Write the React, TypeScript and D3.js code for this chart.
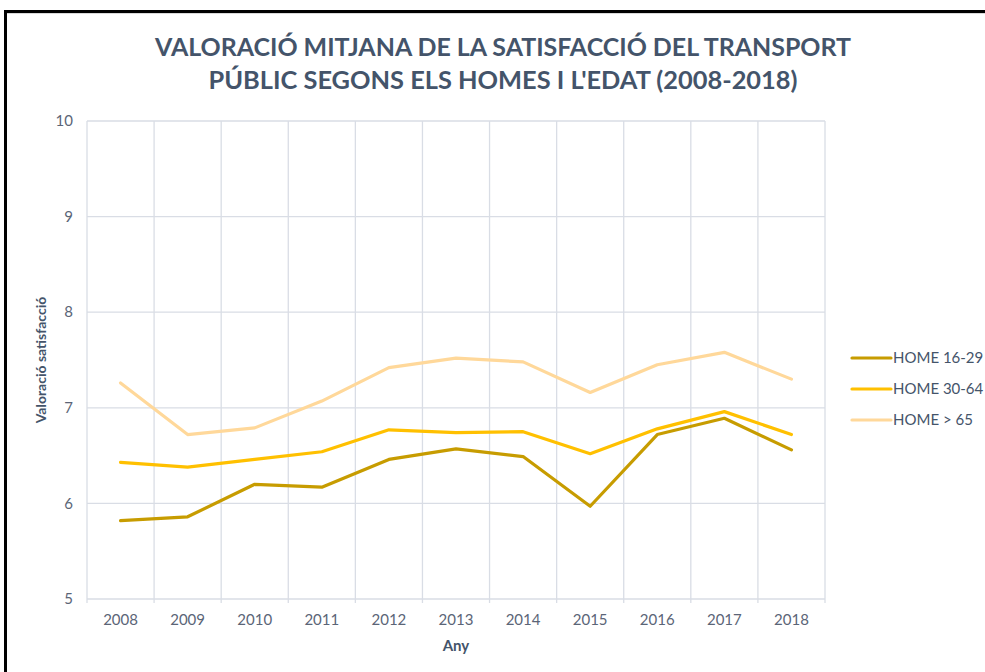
import * as d3 from "d3";
import { useEffect } from "react";

const years = ["2008", "2009", "2010", "2011", "2012", "2013", "2014", "2015", "2016", "2017", "2018"];
const home1629 = [5.82, 5.86, 6.2, 6.17, 6.46, 6.57, 6.49, 5.97, 6.72, 6.89, 6.56];
const home3064 = [6.43, 6.38, 6.46, 6.54, 6.77, 6.74, 6.75, 6.52, 6.78, 6.96, 6.72];
const home65 = [7.26, 6.72, 6.79, 7.07, 7.42, 7.52, 7.48, 7.16, 7.45, 7.58, 7.3];
const yTicks = [5, 6, 7, 8, 9, 10];

const seriesNames = ["HOME 16-29", "HOME 30-64", "HOME > 65"];
const seriesColors = ["#C79C00", "#FFC000", "#FFD89A"];

const width = 985;
const height = 672;
const marginLeft = 87;
const marginRight = 160;
const marginTop = 121;
const marginBottom = 73;

const font = "Lato, 'Open Sans', sans-serif";

export default function App() {
  useEffect(() => {
    document.body.style.margin = "0";
  }, []);

  const x = d3
    .scaleBand<string>()
    .domain(years)
    .range([marginLeft, width - marginRight])
    .padding(0);

  const y = d3
    .scaleLinear()
    .domain([5, 10])
    .range([height - marginBottom, marginTop]);

  const series = [home1629, home3064, home65];

  const line = d3
    .line<number>()
    .x((_, i) => x(years[i])! + x.bandwidth() / 2)
    .y((d) => y(d));

  // vertical grid lines sit on the band edges
  const edges = years.map((yr) => x(yr)!).concat([x.range()[1]]);

  return (
    <svg width={width} height={height} style={{ display: "block" }}>
      <rect width={width} height={height} fill="#fff" />
      {/* frame */}
      <rect x={6.5} y={13.5} width={width + 20} height={height + 20} fill="none" stroke="#D9D9D9" strokeWidth={1} />
      <rect x={5.5} y={11.5} width={width + 20} height={height + 20} fill="none" stroke="#000" strokeWidth={3} />

      <text
        x={503}
        y={56}
        textAnchor="middle"
        fontFamily={font}
        fontWeight="bold"
        fontSize={25}
        fill="#44546A"
        textLength={696}
        lengthAdjust="spacingAndGlyphs"
      >
        VALORACIÓ MITJANA DE LA SATISFACCIÓ DEL TRANSPORT
      </text>
      <text
        x={503}
        y={89}
        textAnchor="middle"
        fontFamily={font}
        fontWeight="bold"
        fontSize={25}
        fill="#44546A"
        textLength={589}
        lengthAdjust="spacingAndGlyphs"
      >
        PÚBLIC SEGONS ELS HOMES I L'EDAT (2008-2018)
      </text>

      {/* horizontal grid */}
      {yTicks.map((t) => (
        <g key={t}>
          <line x1={marginLeft} x2={width - marginRight} y1={y(t)} y2={y(t)} stroke="#D9DDE5" strokeWidth={1.3} />
          <text
            x={marginLeft - 14}
            y={y(t)}
            dy="0.35em"
            textAnchor="end"
            fontFamily={font}
            fontSize={15}
            fill="#5B6577"
          >
            {t}
          </text>
        </g>
      ))}

      {/* vertical grid + ticks */}
      {edges.map((ex, i) => (
        <line
          key={i}
          x1={ex}
          x2={ex}
          y1={marginTop}
          y2={height - marginBottom + 4}
          stroke="#D9DDE5"
          strokeWidth={1.3}
        />
      ))}

      {years.map((yr) => (
        <text
          key={yr}
          x={x(yr)! + x.bandwidth() / 2}
          y={620}
          dy="0.35em"
          textAnchor="middle"
          fontFamily={font}
          fontSize={15}
          fill="#5B6577"
        >
          {yr}
        </text>
      ))}

      {series.map((s, i) => (
        <path
          key={i}
          d={line(s)!}
          fill="none"
          stroke={seriesColors[i]}
          strokeWidth={3.2}
          strokeLinejoin="round"
          strokeLinecap="round"
        />
      ))}

      <text
        x={(marginLeft + width - marginRight) / 2}
        y={646}
        dy="0.35em"
        textAnchor="middle"
        fontFamily={font}
        fontWeight="bold"
        fontSize={15}
        fill="#44546A"
      >
        Any
      </text>
      <text
        transform={`translate(41,360) rotate(-90)`}
        dy="0.35em"
        textAnchor="middle"
        fontFamily={font}
        fontWeight="bold"
        fontSize={14}
        fill="#44546A"
      >
        Valoració satisfacció
      </text>

      {/* legend */}
      {seriesNames.map((name, i) => (
        <g key={name} transform={`translate(852,${358 + i * 31})`}>
          <line x1={0} x2={39} y1={0} y2={0} stroke={seriesColors[i]} strokeWidth={3.2} strokeLinecap="round" />
          <text x={41} y={0} dy="0.35em" fontFamily={font} fontSize={15} fill="#44546A">
            {name}
          </text>
        </g>
      ))}
    </svg>
  );
}
